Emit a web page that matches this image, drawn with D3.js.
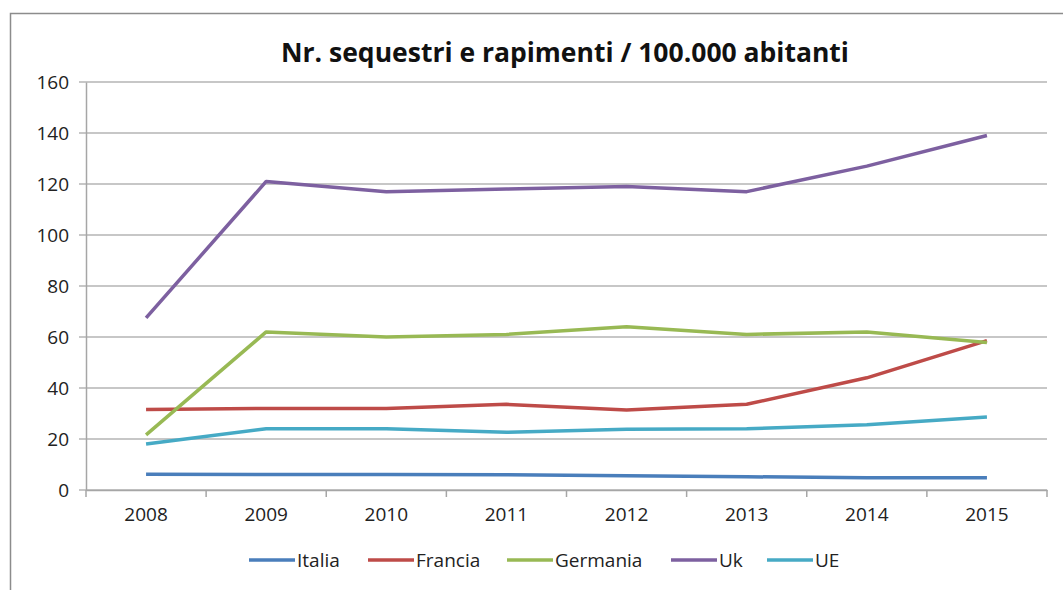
<!DOCTYPE html>
<html>
<head>
<meta charset="utf-8">
<script src="https://cdn.jsdelivr.net/npm/d3@7"></script>
<style>
  body { margin: 0; background: #fff; }
  svg { display: block; font-family: "Open Sans", "Liberation Sans", sans-serif; }
</style>
</head>
<body>
<script>
// data
var years = ["2008", "2009", "2010", "2011", "2012", "2013", "2014", "2015"];
var italia   = [6.2, 6.1, 6.1, 6.0, 5.6, 5.2, 4.8, 4.8];
var francia  = [31.6, 32.0, 32.0, 33.6, 31.4, 33.6, 44.0, 58.6];
var germania = [21.6, 62.0, 60.0, 61.0, 64.0, 61.0, 62.0, 57.8];
var uk       = [67.5, 121.0, 117.0, 118.0, 119.0, 117.0, 127.0, 139.0];
var ue       = [18.0, 24.0, 24.0, 22.6, 23.8, 24.0, 25.6, 28.6];
var seriesNames = ["Italia", "Francia", "Germania", "Uk", "UE"];
var yTicks = [0, 20, 40, 60, 80, 100, 120, 140, 160];

var colors = ["#4a7ebb", "#be4b48", "#98b954", "#7d60a0", "#46aac5"];
var series = [italia, francia, germania, uk, ue].map(function (v, i) {
    return { name: seriesNames[i], values: v, color: colors[i] };
});

var width = 1063, height = 590;
var plotLeft = 86, plotRight = 1047, plotTop = 82, plotBottom = 490;

var svg = d3.select("body").append("svg")
    .attr("width", width)
    .attr("height", height);

// chart frame
svg.append("rect")
    .attr("x", 10.5).attr("y", 13.5)
    .attr("width", 1060).attr("height", 600)
    .attr("fill", "none")
    .attr("stroke", "#8c8c8c")
    .attr("stroke-width", 1.5);

svg.append("text")
    .attr("x", 565).attr("y", 62)
    .attr("text-anchor", "middle")
    .attr("font-size", 26.5)
    .attr("font-weight", "bold")
    .attr("fill", "#111")
    .text("Nr. sequestri e rapimenti / 100.000 abitanti");

var x = d3.scaleBand().domain(years).range([plotLeft, plotRight]);
var y = d3.scaleLinear().domain([0, 160]).range([plotBottom, plotTop]);

// gridlines
svg.append("g")
    .selectAll("line")
    .data(yTicks)
    .enter().append("line")
    .attr("x1", plotLeft - 7).attr("x2", plotRight)
    .attr("y1", function (d) { return y(d); })
    .attr("y2", function (d) { return y(d); })
    .attr("stroke", "#b4b4b4")
    .attr("stroke-width", 1.5);

// y axis
var yAxis = svg.append("g")
    .attr("transform", "translate(" + plotLeft + ",0)")
    .call(d3.axisLeft(y).tickValues(yTicks).tickSize(0).tickPadding(17));
yAxis.select(".domain").attr("stroke", "#a6a6a6").attr("stroke-width", 1.5);
yAxis.selectAll("text").attr("font-size", 19).attr("fill", "#222")
    .attr("font-family", "Open Sans, sans-serif");

// x axis with ticks between categories
var xAxis = svg.append("g")
    .attr("transform", "translate(0," + plotBottom + ")")
    .call(d3.axisBottom(x).tickSize(0).tickPadding(18));
xAxis.select(".domain").attr("stroke", "#a6a6a6").attr("stroke-width", 1.5);
xAxis.selectAll("text").attr("font-size", 19).attr("fill", "#222")
    .attr("font-family", "Open Sans, sans-serif");
xAxis.selectAll(".sep")
    .data(d3.range(years.length + 1))
    .enter().append("line")
    .attr("class", "sep")
    .attr("x1", function (i) { return plotLeft + i * x.step(); })
    .attr("x2", function (i) { return plotLeft + i * x.step(); })
    .attr("y1", 0).attr("y2", 7)
    .attr("stroke", "#a6a6a6")
    .attr("stroke-width", 1.5);

var line = d3.line()
    .x(function (d, i) { return x(years[i]) + x.bandwidth() / 2; })
    .y(function (d) { return y(d); });

svg.append("g")
    .selectAll("path")
    .data(series)
    .enter().append("path")
    .attr("d", function (s) { return line(s.values); })
    .attr("fill", "none")
    .attr("stroke", function (s) { return s.color; })
    .attr("stroke-width", 3.5)
    .attr("stroke-linejoin", "round");

// legend
var legendX = [249, 368, 507, 671, 767];
var legend = svg.append("g")
    .selectAll("g")
    .data(series)
    .enter().append("g")
    .attr("transform", function (s, i) { return "translate(" + legendX[i] + ",560)"; });
legend.append("line")
    .attr("x1", 0).attr("x2", 46)
    .attr("stroke", function (s) { return s.color; })
    .attr("stroke-width", 3.5);
legend.append("text")
    .attr("x", 48).attr("y", 7)
    .attr("font-size", 19)
    .attr("fill", "#222")
    .text(function (s) { return s.name; });
</script>
</body>
</html>
